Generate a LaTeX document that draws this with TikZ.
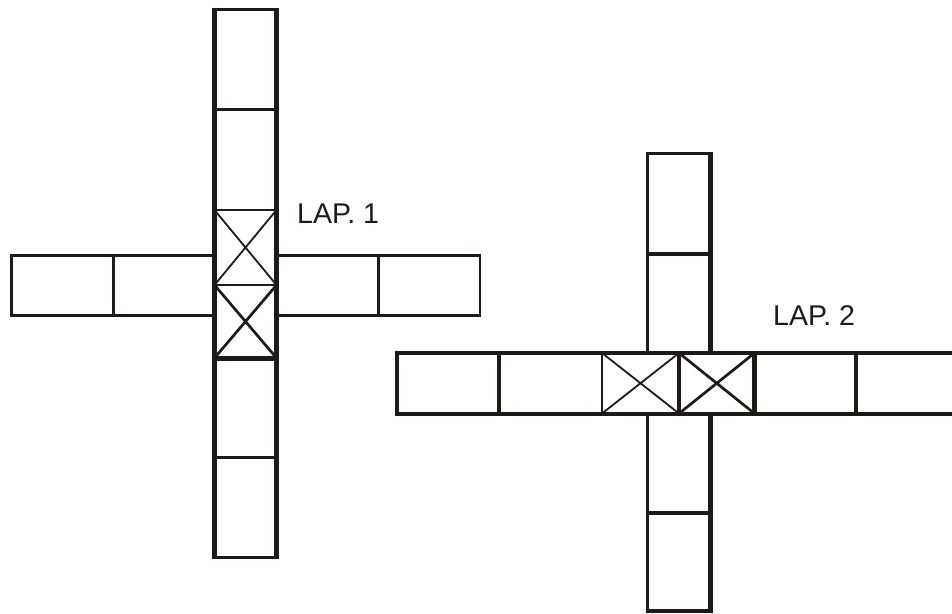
\documentclass[tikz,border=0pt]{standalone}
\usepackage{fontspec}
\setmainfont{Liberation Sans}
\definecolor{ink}{RGB}{30,26,23}
\begin{document}
\begin{tikzpicture}[x=1pt,y=-1pt,color=ink,
  heavy/.style={line width=5pt},
  medium/.style={line width=3.3pt},
  light/.style={line width=2.7pt},
  hair/.style={line width=1.8pt},
  lbl/.style={font=\fontsize{28.5}{30}\selectfont,inner sep=0pt,anchor=base west}]
\useasboundingbox (0,0) rectangle (952,613);
% ---------------- cross 1 ----------------
% horizontal arms
\draw[light] (11.5,255.5) rectangle (214.5,315.5);
\draw[light] (113.5,255.5) -- (113.5,315.5);
\draw[light] (276.5,255.5) rectangle (480,315.5);
\draw[light] (378.5,255.5) -- (378.5,315.5);
% crossed cells
\draw[hair] (214.5,210) -- (276.5,285) (276.5,210) -- (214.5,285);
\draw[light] (214.5,285) -- (276.5,358) (276.5,285) -- (214.5,358);
\draw[light] (214.5,210) -- (276.5,210);
\draw[light] (214.5,285) -- (276.5,285);
\draw[heavy] (214.5,358) -- (276.5,358);
% column
\draw[medium] (214.5,9.5) -- (276.5,9.5);
\draw[medium] (214.5,109.5) -- (276.5,109.5);
\draw[medium] (214.5,457.5) -- (276.5,457.5);
\draw[medium] (214.5,557.5) -- (276.5,557.5);
\draw[heavy] (214.5,7.8) -- (214.5,559.2);
\draw[heavy] (276.5,7.8) -- (276.5,559.2);
\node[lbl] (lap1) at (297,223.3) {LAP. 1};
% ---------------- cross 2 ----------------
% column parts
\draw[medium] (647.5,153.5) -- (710.5,153.5);
\draw[medium] (647.5,254) -- (710.5,254);
\draw[medium] (647.5,513) -- (710.5,513);
\draw[medium] (647.5,611) -- (710.5,611);
\draw[medium] (647.5,151.9) -- (647.5,353) (647.5,413) -- (647.5,612.6);
\draw[line width=4.5pt] (710.5,151.9) -- (710.5,353) (710.5,413) -- (710.5,612.6);
% crossed cells
\draw[hair] (602,353) -- (679,413.5) (679,353) -- (602,413.5);
\draw[light] (679,353) -- (754.5,413.5) (754.5,353) -- (679,413.5);
% bar
\draw[medium] (397,353) -- (397,413.5);
\draw[medium] (499,353) -- (499,413.5);
\draw[light] (602,353) -- (602,413.5);
\draw[medium] (679,353) -- (679,413.5);
\draw[line width=4.5pt] (754.5,353) -- (754.5,413.5);
\draw[medium] (856,353) -- (856,413.5);
\draw[line width=4.5pt] (395.4,353) -- (960,353);
\draw[line width=4pt] (395.4,413.5) -- (960,413.5);
\node[lbl] (lap2) at (773,325.7) {LAP. 2};
\end{tikzpicture}
\end{document}
